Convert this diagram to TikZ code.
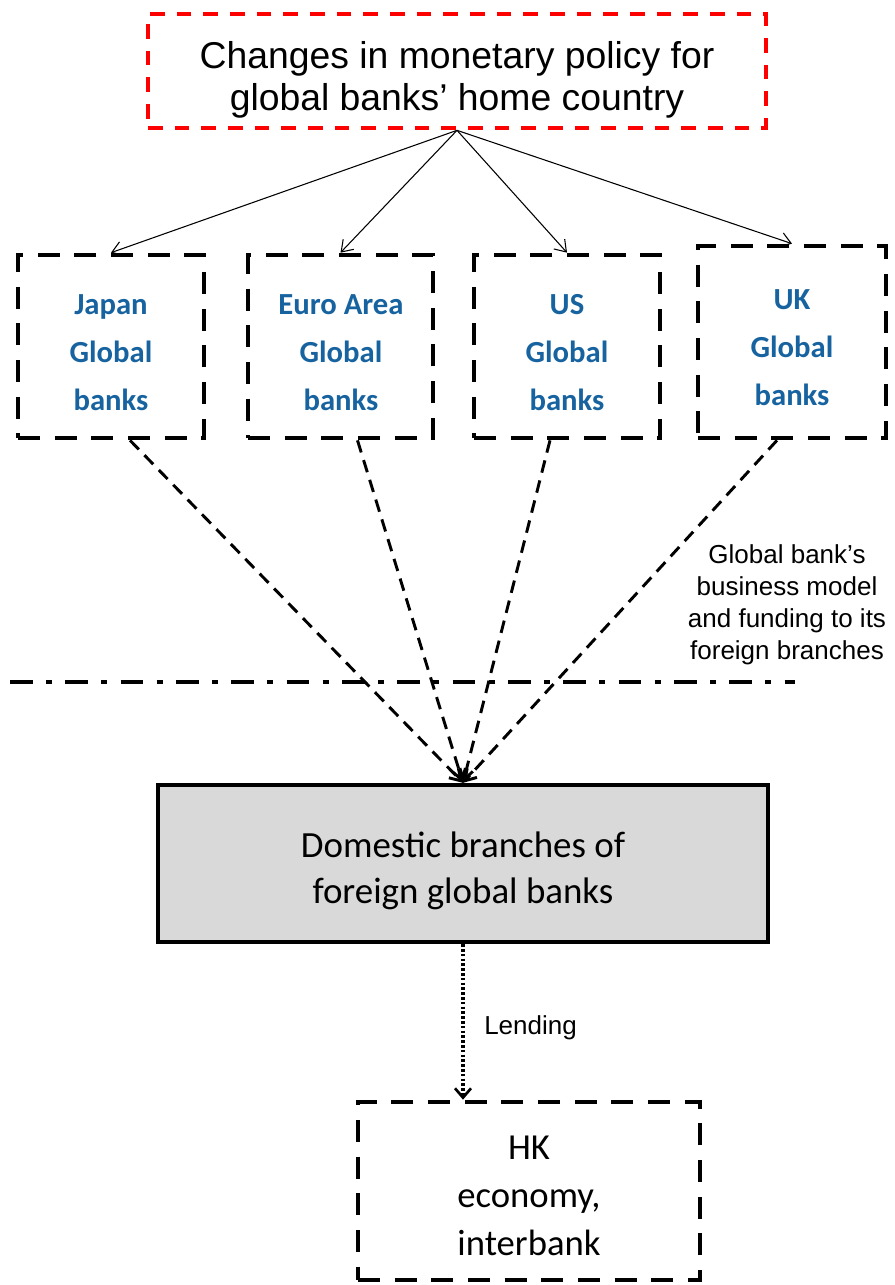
\documentclass[tikz,border=0pt]{standalone}
\usepackage{fontspec}
\newfontfamily\arialf{Liberation Sans}
\newfontfamily\calf{Carlito}
\usetikzlibrary{arrows.meta}
\definecolor{bankblue}{RGB}{23,99,160}
\definecolor{boxgray}{RGB}{217,217,217}
\definecolor{pred}{RGB}{255,0,0}
\tikzset{
  x=0.75pt, y=-0.75pt,
  redbox/.style={draw=pred, line width=3.5pt, dash pattern=on 11pt off 9pt, inner sep=0pt},
  bankbox/.style={draw=black, line width=3.5pt, dash pattern=on 16.5pt off 11pt, inner sep=0pt},
  dombox/.style={draw=black, fill=boxgray, line width=3.3pt, inner sep=0pt},
  hkbox/.style={draw=black, line width=3.5pt, dash pattern=on 16.5pt off 11pt, inner sep=0pt},
  toptext/.style={align=center, inner sep=0pt, font=\arialf\fontsize{28}{31.5}\selectfont},
  banktext/.style={align=center, inner sep=0pt, text=bankblue, font=\calf\bfseries\fontsize{23}{36}\selectfont},
  domtext/.style={align=center, inner sep=0pt, font=\calf\fontsize{27.7}{34.5}\selectfont},
  hktext/.style={align=center, inner sep=0pt, font=\calf\fontsize{27.5}{36}\selectfont},
  policyarrow/.style={line width=0.8pt, -{Straight Barb[length=8pt,width=11pt]}},
  fundarrow/.style={line width=2.2pt, dash pattern=on 9.5pt off 6pt, -{Straight Barb[length=8pt,width=10pt]}},
  lendarrow/.style={line width=2.6pt, dash pattern=on 2pt off 1.6pt, -{Straight Barb[length=7pt,width=12pt, line width=2pt]}},
  divider/.style={line width=3.5pt, dash pattern=on 17pt off 10pt on 4.5pt off 10pt},
  note/.style={font=\arialf\fontsize{19.5}{24}\selectfont, align=center, inner sep=0pt}
}
\begin{document}
\begin{tikzpicture}
\useasboundingbox (0,0) rectangle (894,1285);

\node[redbox, minimum width=463.5pt, minimum height=85.5pt] (top) at (457,71) {};
\node[toptext] (toptxt) at (457,80) {Changes in monetary policy for\\global banks’ home country};

\node[bankbox, minimum width=139.5pt, minimum height=137.25pt] (japan) at (111,346.5) {};
\node[bankbox, minimum width=138.75pt, minimum height=137.25pt] (euro) at (340.5,346.5) {};
\node[bankbox, minimum width=139.5pt, minimum height=137.25pt] (us) at (567,346.5) {};
\node[bankbox, minimum width=141pt, minimum height=144pt] (uk) at (792,342) {};
\node[banktext] (japantxt) at (111,353) {Japan\\Global\\banks};
\node[banktext] (eurotxt) at (341,353) {Euro Area\\Global\\banks};
\node[banktext] (ustxt) at (567,353) {US\\Global\\banks};
\node[banktext] (uktxt) at (792,348) {UK\\Global\\banks};

\node[dombox, minimum width=457.5pt, minimum height=117.75pt] (dom) at (463,863.5) {};
\node[domtext] (domtxt) at (463,871) {Domestic branches of\\foreign global banks};

\node[hkbox, minimum width=256.5pt, minimum height=133.5pt] (hk) at (529,1191) {};
\node[hktext] (hktxt) at (529,1196) {HK\\economy,\\interbank};

\node[note] (model) at (787,605) {Global bank’s\\business model\\and funding to its\\foreign branches};
\node[note, anchor=west] (lend) at (484,1028) {Lending};

\coordinate (divL) at (10,682);
\coordinate (divR) at (795,682);
\draw[divider] (divL) -- (divR);

\draw[policyarrow] (top.south) -- (japan.north);
\draw[policyarrow] (top.south) -- (euro.north);
\draw[policyarrow] (top.south) -- (us.north);
\draw[policyarrow] (top.south) -- (uk.north);

\draw[fundarrow] ([xshift=14.25pt]japan.south) -- (dom.north);
\draw[fundarrow] ([xshift=12.75pt]euro.south) -- (dom.north);
\draw[fundarrow] ([xshift=-12.75pt]us.south) -- (dom.north);
\draw[fundarrow] ([xshift=-11.25pt]uk.south) -- (dom.north);

\draw[lendarrow] (dom.south) -- (dom.south |- hk.north);
\end{tikzpicture}
\end{document}
